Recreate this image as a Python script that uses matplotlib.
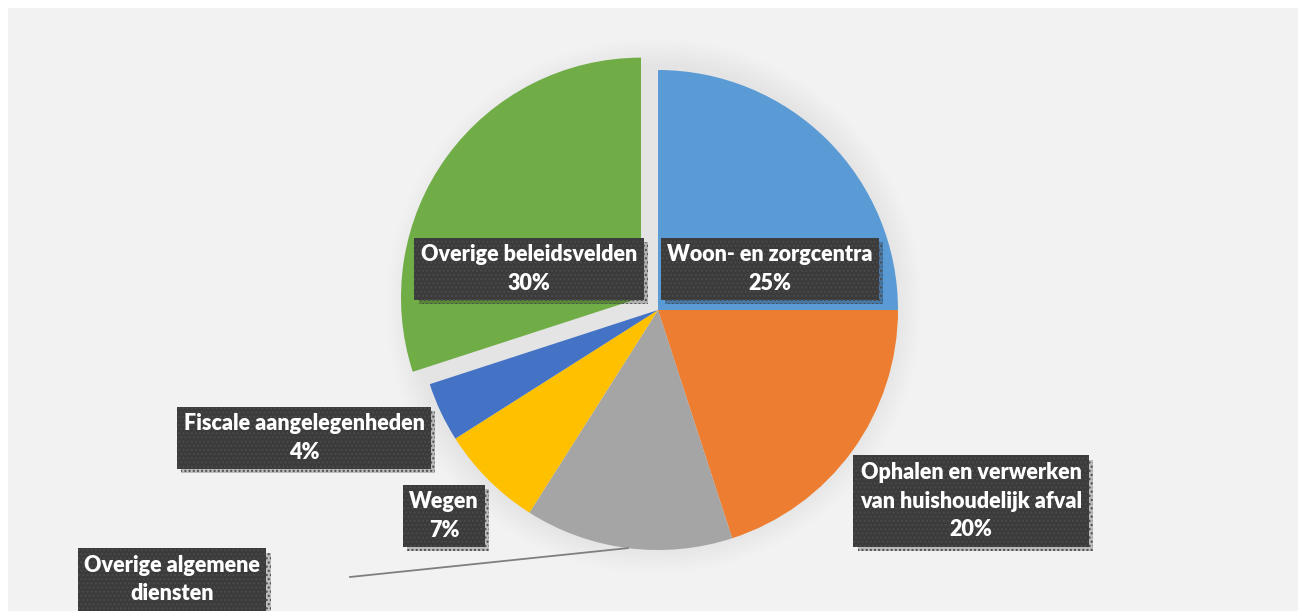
import numpy as np
import matplotlib.pyplot as plt
from matplotlib.patches import Rectangle, Circle
import matplotlib.patheffects as pe

# slices, clockwise from 12 o'clock
labels = ['Woon- en zorgcentra', 'Ophalen en verwerken\nvan huishoudelijk afval',
          'Overige algemene\ndiensten', 'Wegen', 'Fiscale aangelegenheden',
          'Overige beleidsvelden']
values = [25, 20, 14, 7, 4, 30]
colors = ['#5B9BD5', '#ED7D31', '#A5A5A5', '#FFC000', '#4472C4', '#70AD47']

# label box centres (pixel space, y up)
label_pos = [(770, 342), (971, 110), (172, 17), (444, 95), (304, 173), (529, 342)]

W, H = 1298, 611
cx, cy, r = 658, 301, 240
explode = [0, 0, 0, 0, 0, 21]   # data units (pixels)

fig = plt.figure(figsize=(W / 100, H / 100), dpi=100)
fig.patch.set_facecolor('white')
ax = fig.add_axes([0, 0, 1, 1])

# chart area
ax.add_patch(Rectangle((8, 0), W - 8, H - 8, facecolor='#f2f2f2', edgecolor='none', zorder=0))

# soft shadow round the pie
for k in range(14):
    ax.add_patch(Circle((cx - 4, cy + 4), r + 2 + k * 2, facecolor='#000000', alpha=0.0055,
                        edgecolor='none', zorder=1))

wedges, _ = ax.pie(values, colors=colors, explode=explode, startangle=90,
                   counterclock=False, center=(cx, cy), radius=r,
                   wedgeprops=dict(edgecolor='none', zorder=2), frame=True)
ax.set_xlim(0, W)
ax.set_ylim(0, H)
ax.set_aspect('equal')
ax.axis('off')

# leader line for the grey slice
w = wedges[2]
ang = np.deg2rad((w.theta1 + w.theta2) / 2)
x0 = cx + r * np.cos(ang)
y0 = cy + r * np.sin(ang)
ax.plot([x0, 350], [y0, 34], color='#7f7f7f', lw=1.3, zorder=3)

for lab, v, (x, y) in zip(labels, values, label_pos):
    t = ax.text(x, y, f'{lab}\n{v}%', ha='center', va='center', color='white',
                fontsize=15.5, fontweight='heavy', family='Lato', linespacing=1.45,
                zorder=5,
                bbox=dict(boxstyle='square,pad=0.3', facecolor='#3b3b3b',
                          edgecolor='#4a4a4a', hatch='....', linewidth=0))
    t.get_bbox_patch().set_path_effects([
        pe.SimplePatchShadow(offset=(3, -3), shadow_rgbFace='#000000', alpha=0.22),
        pe.Normal()])

fig.savefig('out.png', dpi=100, facecolor=fig.get_facecolor())
